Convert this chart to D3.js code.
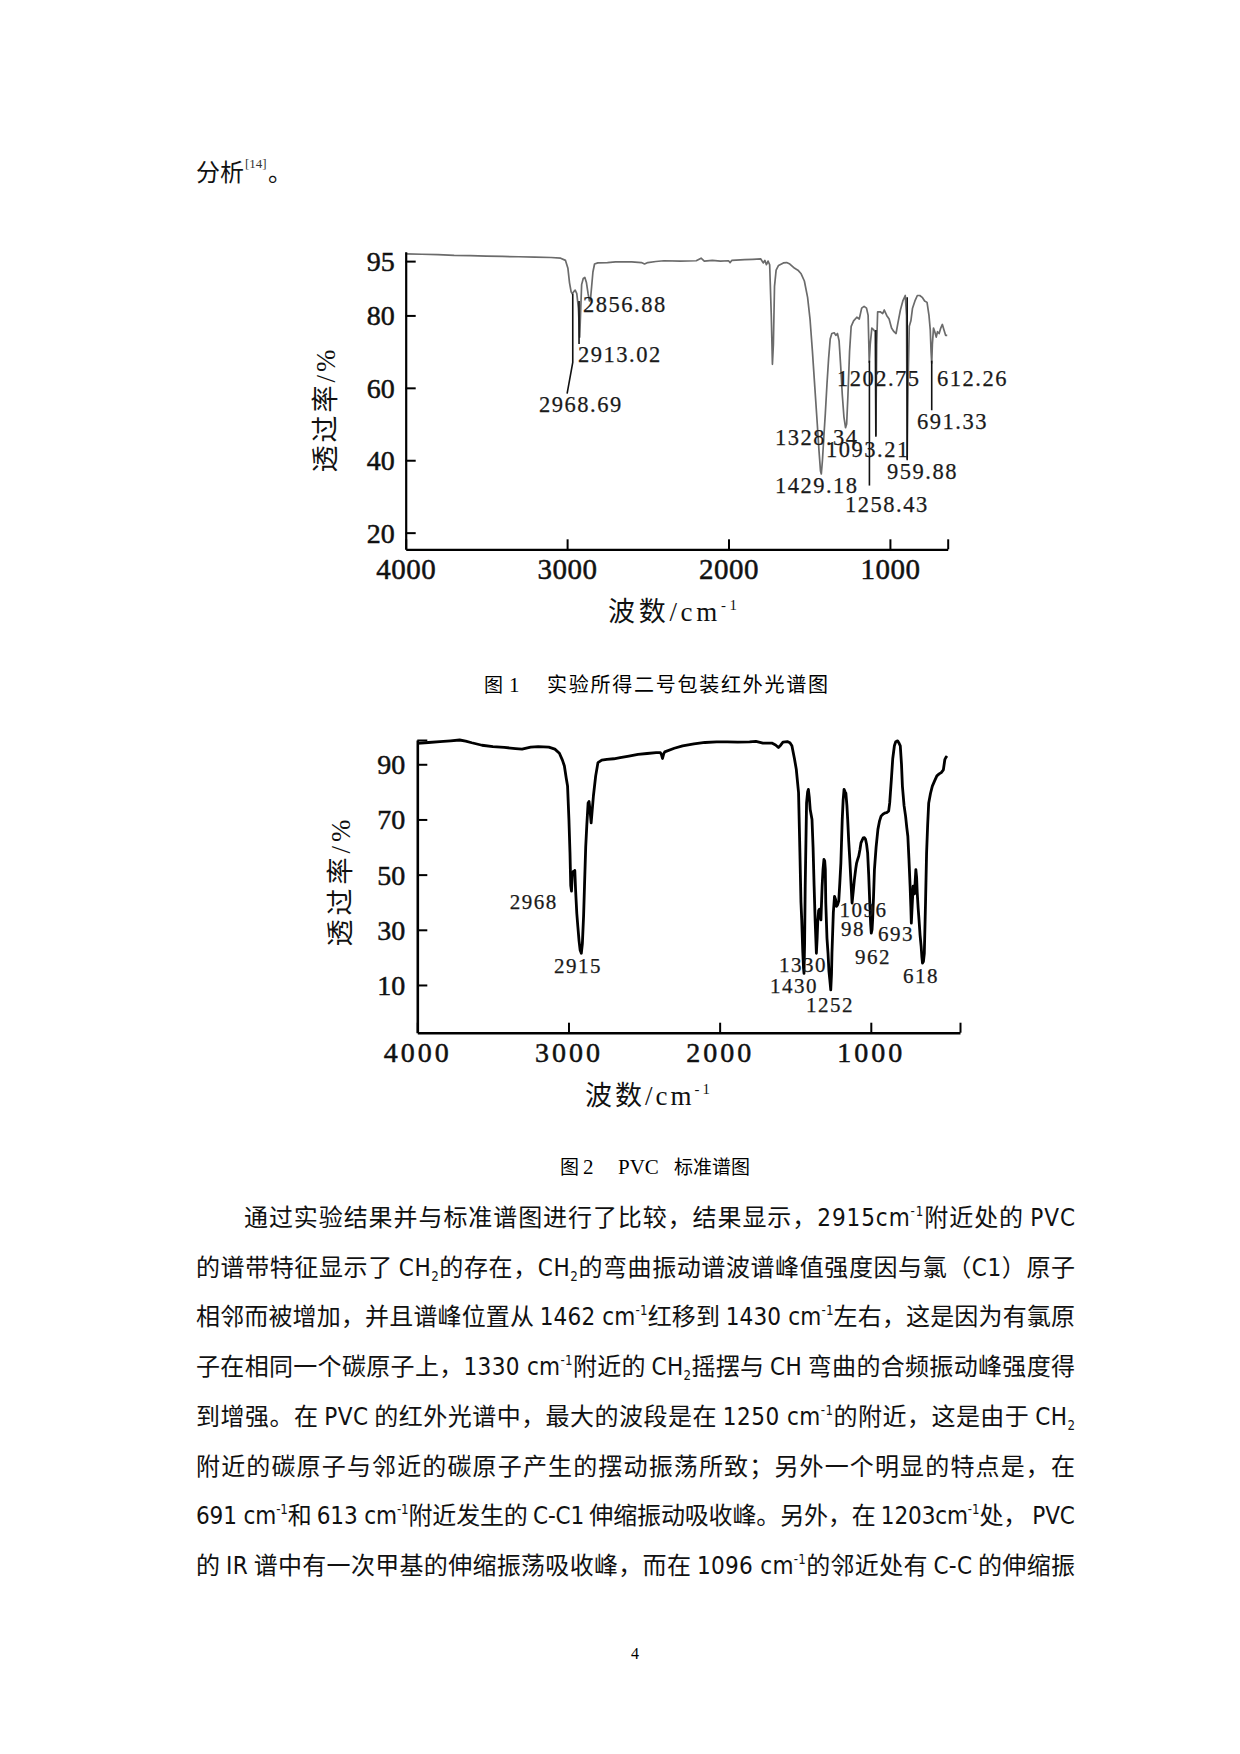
<!DOCTYPE html>
<html><head><meta charset="utf-8">
<script src="https://cdn.jsdelivr.net/npm/d3@7"></script>
<style>body{margin:0;background:#fff}</style>
</head><body>
<svg id="page" width="1240" height="1754"></svg>
<script>
// ---------- DATA ----------
// Figure 1: experimental spectrum [wavenumber, transmittance %]
const spectrum1 = [
[4000,97.0],[3900,96.9],[3800,96.8],[3700,96.6],[3600,96.5],[3500,96.4],[3400,96.3],[3300,96.2],[3200,96.1],[3100,96.0],[3040,95.8],[3010,95.2],[2995,93],[2985,89],[2975,86.5],[2968,86],[2960,86.5],[2950,87],[2940,86],[2930,82],[2922,74],[2917,80],[2910,88.5],[2900,90.2],[2890,90.5],[2880,89],[2870,86],[2862,84],[2855,84.5],[2848,88],[2840,92],[2830,94.2],[2810,94.5],[2750,94.6],[2700,94.8],[2600,94.8],[2540,94.6],[2520,94.2],[2500,94.6],[2450,94.9],[2400,95.1],[2300,95.0],[2200,95.1],[2170,95.8],[2150,95.0],[2100,95.2],[2050,95.0],[2000,95.1],[1990,94.6],[1980,95.2],[1900,95.4],[1850,95.5],[1800,95.6],[1785,94.5],[1775,95.2],[1765,94.0],[1755,95.0],[1745,94.0],[1735,80],[1728,66.5],[1722,72],[1715,88],[1705,92.5],[1690,93.8],[1660,94.5],[1640,94.6],[1620,94.2],[1590,93.0],[1570,92.5],[1550,91.5],[1530,89.5],[1510,85],[1495,79],[1480,70],[1465,60],[1450,50],[1440,43],[1430,37],[1425,36.2],[1418,40],[1410,46],[1400,53],[1390,61],[1380,68],[1370,73.5],[1360,75],[1345,75.2],[1335,74.5],[1325,75],[1315,73],[1305,66],[1295,58],[1285,52],[1275,49],[1268,50],[1260,58],[1250,70],[1240,77],[1225,78.5],[1205,79.5],[1190,79],[1175,82],[1160,82.5],[1145,82],[1135,80],[1128,67],[1122,72],[1112,76.5],[1100,76],[1092,75.5],[1087,47],[1082,72],[1076,81],[1060,81],[1045,80.5],[1035,81.5],[1020,80],[1005,79],[990,76.5],[975,75.5],[962,75],[950,78],[935,81.5],[920,84],[905,85.5],[897,80],[893,40.5],[888,60],[880,77],[870,78.5],[860,82],[845,84],[830,85.5],[815,85.5],[800,85],[785,84],[770,83.6],[758,80],[750,76],[745,70],[741,66.8],[737,72],[730,76.5],[722,75.5],[713,74],[705,75.5],[695,75],[685,76.5],[675,77.5],[665,76],[655,74.5],[645,74.5]
];
const peakLabels1   = ["2856.88","2913.02","2968.69","1202.75","612.26","691.33","1328.34","1093.21","959.88","1429.18","1258.43"];
const peakLabelWn1  = [2901,2932,3174,1328,708,832,1712,1396,1018,1712,1278];
const peakLabelT1   = [83.2,69.2,55.5,62.8,62.8,50.9,46.3,43.1,37.0,33.0,27.9];
const leaders1 = [
  [[2965,86],[2965,67],[3000,58.4]],
  [[2926,84],[2926,72.1]],
  [[1127,67.5],[1127,33]],
  [[1087,76],[1087,46.5]],
  [[893,85],[893,40]],
  [[741,67.5],[741,53.8]]
];
const xTicks1 = [4000,3000,2000,1000];
const yTicks1 = [95,80,60,40,20];

// Figure 2: PVC standard spectrum
const spectrum2 = [
[4000,97.6],[3926,97.9],[3850,98.2],[3780,98.5],[3720,98.8],[3680,98.4],[3640,97.8],[3572,96.9],[3500,96.4],[3425,96.1],[3350,95.7],[3307,95.5],[3250,96.2],[3200,96.4],[3130,96.2],[3090,95.5],[3060,94.0],[3040,91.5],[3027,89.4],[3015,85],[3006,82.1],[2997,70],[2990,58],[2985,46],[2980,44],[2975,50],[2968,51.2],[2962,50],[2958,51.5],[2953,44.5],[2945,36],[2938,31.2],[2930,26],[2923,22.7],[2915,21.5],[2908,25],[2900,35],[2894,45.8],[2886,60],[2879,67.6],[2870,76],[2864,76.5],[2858,73.6],[2850,68.8],[2845,72],[2835,78.5],[2820,85.8],[2805,90.6],[2780,91.5],[2746,91.8],[2700,92.0],[2658,92.4],[2600,93.0],[2540,93.6],[2480,93.9],[2420,94.2],[2392,94.2],[2385,93.5],[2378,92.1],[2370,93.8],[2363,94.5],[2300,95.8],[2245,96.7],[2170,97.4],[2097,97.9],[2020,98.1],[1950,98.1],[1880,98.0],[1802,98.1],[1760,98.3],[1714,97.7],[1655,97.7],[1630,97.0],[1611,96.1],[1595,97.0],[1581,98.0],[1552,98.2],[1535,97.8],[1522,96.7],[1505,92],[1493,88.2],[1478,79.7],[1469,57.9],[1462,40],[1457,33.6],[1450,22],[1445,16],[1442,14.2],[1438,25],[1434,45.8],[1425,76],[1418,80],[1413,80.9],[1407,78],[1401,73.6],[1389,70],[1382,60],[1375,45.8],[1368,33],[1360,21.5],[1355,27],[1351,33],[1345,37],[1339,37.5],[1334,35],[1330,33.6],[1322,45.8],[1316,52],[1310,55.5],[1305,55],[1301,52],[1298,40],[1290,27],[1283,21.5],[1277,15],[1271,11.8],[1265,8.2],[1260,14],[1257,21.5],[1248,36.1],[1240,42.1],[1233,41],[1227,38.5],[1220,39],[1212,40.5],[1205,47],[1198,54.2],[1189,70],[1183,77],[1177,80.9],[1170,80],[1165,79.5],[1158,75],[1153,70],[1146,62],[1139,55.5],[1131,47],[1124,39.7],[1116,44],[1109,48],[1100,52],[1094,54.2],[1087,55.5],[1080,56.7],[1072,59],[1065,61.5],[1057,62.5],[1050,63.3],[1042,63.4],[1035,62.8],[1028,61],[1021,57.9],[1014,50],[1006,38.5],[1001,32],[997,28.8],[992,30],[988,33.6],[982,42],[976,51.8],[965,60],[953,66.4],[942,69.5],[932,71.2],[918,72],[903,72.4],[895,72.5],[882,73],[875,76],[864,84.5],[855,92],[844,96.7],[835,98.2],[823,98.5],[812,97.5],[805,96.7],[797,90],[791,82.1],[780,75],[770,71.2],[762,67],[755,63.9],[748,56],[740,45.8],[735,38],[732,32.4],[727,38],[720,45.8],[715,44],[711,43],[706,48],[702,51.8],[697,49],[693,43.5],[687,38],[681,33.6],[674,28],[667,24],[662,20],[658,17.9],[652,18.5],[646,21.5],[638,40],[631,57.9],[624,68],[617,76],[605,79.5],[593,82.1],[578,84],[563,85.8],[548,86.5],[534,87],[520,88],[510,91.8],[503,92.5],[496,93]
];
const peakLabels2  = ["2968","2915","1330","1430","1252","1096","98","962","693","618"];
const peakLabelWn2 = [3389,3096,1607,1667,1429,1207,1197,1104,952,787];
const peakLabelT2  = [40.2,16.9,17.2,9.6,2.7,37.4,30.3,20.2,28.7,13.2];
const xTicks2 = [4000,3000,2000,1000];
const yTicks2 = [90,70,50,30,10];

// ---------- DRAW ----------
const svg = d3.select("#page");
svg.append("rect").attr("width",1240).attr("height",1754).attr("fill","#fff");
const SERIF = "'Liberation Serif','Times New Roman',serif";
const CJK = "'Noto Sans CJK SC','Noto Sans',sans-serif";
const NARROW = "'Liberation Sans Narrow','DejaVu Sans Condensed','Liberation Sans',sans-serif";

function richText(parent, segs, o){
  const t = parent.append("text").attr("x",o.x).attr("y",o.y)
    .attr("font-size",o.size).attr("font-family",o.family).attr("fill",o.fill||"#000");
  if(o.transform) t.attr("transform",o.transform);
  let shift = 0;
  segs.forEach(s=>{
    const [str,kind] = Array.isArray(s)?s:[s,"n"];
    let target=0,size=null,fam=null;
    if(kind==="sup"){target=-0.42*o.size;size=0.55*o.size;fam=o.latin;}
    else if(kind==="sub"){target=0.22*o.size;size=0.55*o.size;fam=o.latin;}
    else if(kind==="lat"){fam=o.latin;}
    const ts=t.append("tspan").text(str);
    if(target-shift!==0) ts.attr("dy",target-shift);
    shift=target;
    if(size) ts.attr("font-size",size);
    if(fam) ts.attr("font-family",fam);
  });
  if(o.width){
    const n=t.node().getNumberOfChars(), w=t.node().getComputedTextLength();
    if(n>1) t.attr("letter-spacing",(o.width-w)/(n-1));
  }
  return t;
}

function drawChart(c){
  const g = svg.append("g");
  const x = d3.scaleLinear().domain(c.xDomain).range(c.xRange);
  const y = d3.scaleLinear().domain(c.yDomain).range(c.yRange);
  g.append("path").datum(c.spectrum)
    .attr("d", d3.line().x(d=>x(d[0])).y(d=>y(d[1])))
    .attr("fill","none").attr("stroke",c.lineColor).attr("stroke-width",c.lineWidth)
    .attr("stroke-linejoin","round");
  (c.leaders||[]).forEach(L=>{
    g.append("path").datum(L).attr("d",d3.line().x(d=>x(d[0])).y(d=>y(d[1])))
      .attr("fill","none").attr("stroke","#111").attr("stroke-width",1.6);
  });
  const yVals = c.yTicks.concat(c.yEndTick?[c.yDomain[1]]:[]);
  const ya = g.append("g").attr("transform",`translate(${c.xRange[0]},0)`)
    .call(d3.axisLeft(y).tickValues(yVals).tickSizeInner(-c.tickLen).tickSizeOuter(0)
      .tickPadding(c.yPad).tickFormat(d=>c.yTicks.includes(d)?d:""));
  const xVals = c.xTicks.concat([c.xDomain[1]]);
  const xa = g.append("g").attr("transform",`translate(0,${c.yRange[0]})`)
    .call(d3.axisBottom(x).tickValues(xVals).tickSizeInner(-c.tickLen).tickSizeOuter(0)
      .tickPadding(c.xPad).tickFormat(d=>c.xTicks.includes(d)?d:""));
  [ya,xa].forEach(a=>{
    a.select(".domain").attr("stroke","#000").attr("stroke-width",c.axisWidth);
    a.selectAll(".tick line").attr("stroke","#000").attr("stroke-width",2);
    a.selectAll(".tick text").attr("fill","#111").attr("font-family",SERIF)
      .attr("stroke","#111").attr("stroke-width",0.5);
  });
  ya.selectAll(".tick text").attr("font-size",c.yFont).attr("dy","0.34em");
  xa.selectAll(".tick text").attr("font-size",c.xFont).attr("letter-spacing",c.xLs);
  c.labels.forEach((s,i)=>{
    g.append("text").attr("x",x(c.labelWn[i])).attr("y",y(c.labelT[i])).attr("dy","0.35em")
      .attr("font-family",SERIF).attr("font-size",c.labelFont).attr("letter-spacing",c.labelLs)
      .attr("fill","#1a1a1a").attr("stroke","#1a1a1a").attr("stroke-width",0.25).text(s);
  });
  richText(g,["波数",["/cm","lat"],["-1","sup"]],
    {x:c.xTitle[0],y:c.xTitle[1],size:27,family:CJK,latin:SERIF,width:c.xTitle[2],fill:"#111"});
  richText(g,["透过率",["/%","lat"]],
    {x:-c.yTitle[2]/2,y:0,size:27,family:CJK,latin:SERIF,width:c.yTitle[2],fill:"#111",
     transform:`translate(${c.yTitle[0]},${c.yTitle[1]}) rotate(-90)`});
}

drawChart({
  spectrum:spectrum1, xDomain:[4000,642], xRange:[405.7,947.7], yDomain:[15.4,97.6], yRange:[549.3,251.7],
  lineColor:"#6b6b6b", lineWidth:1.7, leaders:leaders1, xTicks:xTicks1, yTicks:yTicks1, yEndTick:false,
  tickLen:10, yPad:11, xPad:9, axisWidth:2.2, yFont:28, xFont:29, xLs:0.5,
  labels:peakLabels1, labelWn:peakLabelWn1, labelT:peakLabelT1, labelFont:22.5, labelLs:1.5,
  xTitle:[608,621,129], yTitle:[335,411,123]
});
drawChart({
  spectrum:spectrum2, xDomain:[4000,410], xRange:[417.3,960], yDomain:[-7.3,98.8], yRange:[1032.7,740],
  lineColor:"#000", lineWidth:2.8, leaders:[], xTicks:xTicks2, yTicks:yTicks2, yEndTick:true,
  tickLen:10, yPad:12, xPad:9, axisWidth:2.6, yFont:28, xFont:28, xLs:3,
  labels:peakLabels2, labelWn:peakLabelWn2, labelT:peakLabelT2, labelFont:21, labelLs:1.5,
  xTitle:[585,1105,125], yTitle:[350,883,127]
});

// ---------- PAGE TEXT ----------
const pg = svg.append("g");
pg.append("text").attr("x",196).attr("y",181).attr("font-size",24).attr("font-family",CJK).attr("fill","#111").text("分析");
pg.append("text").attr("x",245).attr("y",168).attr("font-size",13).attr("font-family",SERIF).attr("fill","#333").text("[14]");
pg.append("text").attr("x",268).attr("y",181).attr("font-size",24).attr("font-family",CJK).attr("fill","#111").text("。");

// captions
pg.append("text").attr("x",484).attr("y",692).attr("font-size",19).attr("font-family",CJK).text("图");
pg.append("text").attr("x",509).attr("y",692).attr("font-size",21).attr("font-family",SERIF).text("1");
richText(pg,["实验所得二号包装红外光谱图"],{x:547,y:692,size:20,family:CJK,width:281});
pg.append("text").attr("x",560).attr("y",1174).attr("font-size",19).attr("font-family",CJK).text("图");
pg.append("text").attr("x",583).attr("y",1174).attr("font-size",21).attr("font-family",SERIF).text("2");
pg.append("text").attr("x",618).attr("y",1174).attr("font-size",21).attr("font-family",SERIF).text("PVC");
richText(pg,["标准谱图"],{x:674,y:1174,size:19,family:CJK,width:76});

// body paragraph
const bodyLines = [
 ["通过实验结果并与标准谱图进行了比较，结果显示，",["2915cm","lat"],["-1","sup"],"附近处的 ",["PVC","lat"]],
 ["的谱带特征显示了 ",["CH","lat"],["2","sub"],"的存在，",["CH","lat"],["2","sub"],"的弯曲振动谱波谱峰值强度因与氯（",["C1","lat"],"）原子"],
 ["相邻而被增加，并且谱峰位置从 ",["1462 cm","lat"],["-1","sup"],"红移到 ",["1430 cm","lat"],["-1","sup"],"左右，这是因为有氯原"],
 ["子在相同一个碳原子上，",["1330 cm","lat"],["-1","sup"],"附近的 ",["CH","lat"],["2","sub"],"摇摆与 ",["CH","lat"]," 弯曲的合频振动峰强度得"],
 ["到增强。在 ",["PVC","lat"]," 的红外光谱中，最大的波段是在 ",["1250 cm","lat"],["-1","sup"],"的附近，这是由于 ",["CH","lat"],["2","sub"]],
 ["附近的碳原子与邻近的碳原子产生的摆动振荡所致；另外一个明显的特点是，在"],
 [["691 cm","lat"],["-1","sup"],"和 ",["613 cm","lat"],["-1","sup"],"附近发生的 ",["C-C1","lat"]," 伸缩振动吸收峰。另外，在 ",["1203cm","lat"],["-1","sup"],"处， ",["PVC","lat"]],
 ["的 ",["IR","lat"]," 谱中有一次甲基的伸缩振荡吸收峰，而在 ",["1096 cm","lat"],["-1","sup"],"的邻近处有 ",["C-C","lat"]," 的伸缩振"]
];
bodyLines.forEach((segs,i)=>{
  const x0 = i===0?244:196;
  richText(pg,segs,{x:x0,y:1226+49.7*i,size:24,family:CJK,latin:NARROW,width:1075-x0,fill:"#111"});
});
pg.append("text").attr("x",635).attr("y",1659).attr("text-anchor","middle").attr("font-size",16).attr("font-family",SERIF).text("4");
</script>
</body></html>
